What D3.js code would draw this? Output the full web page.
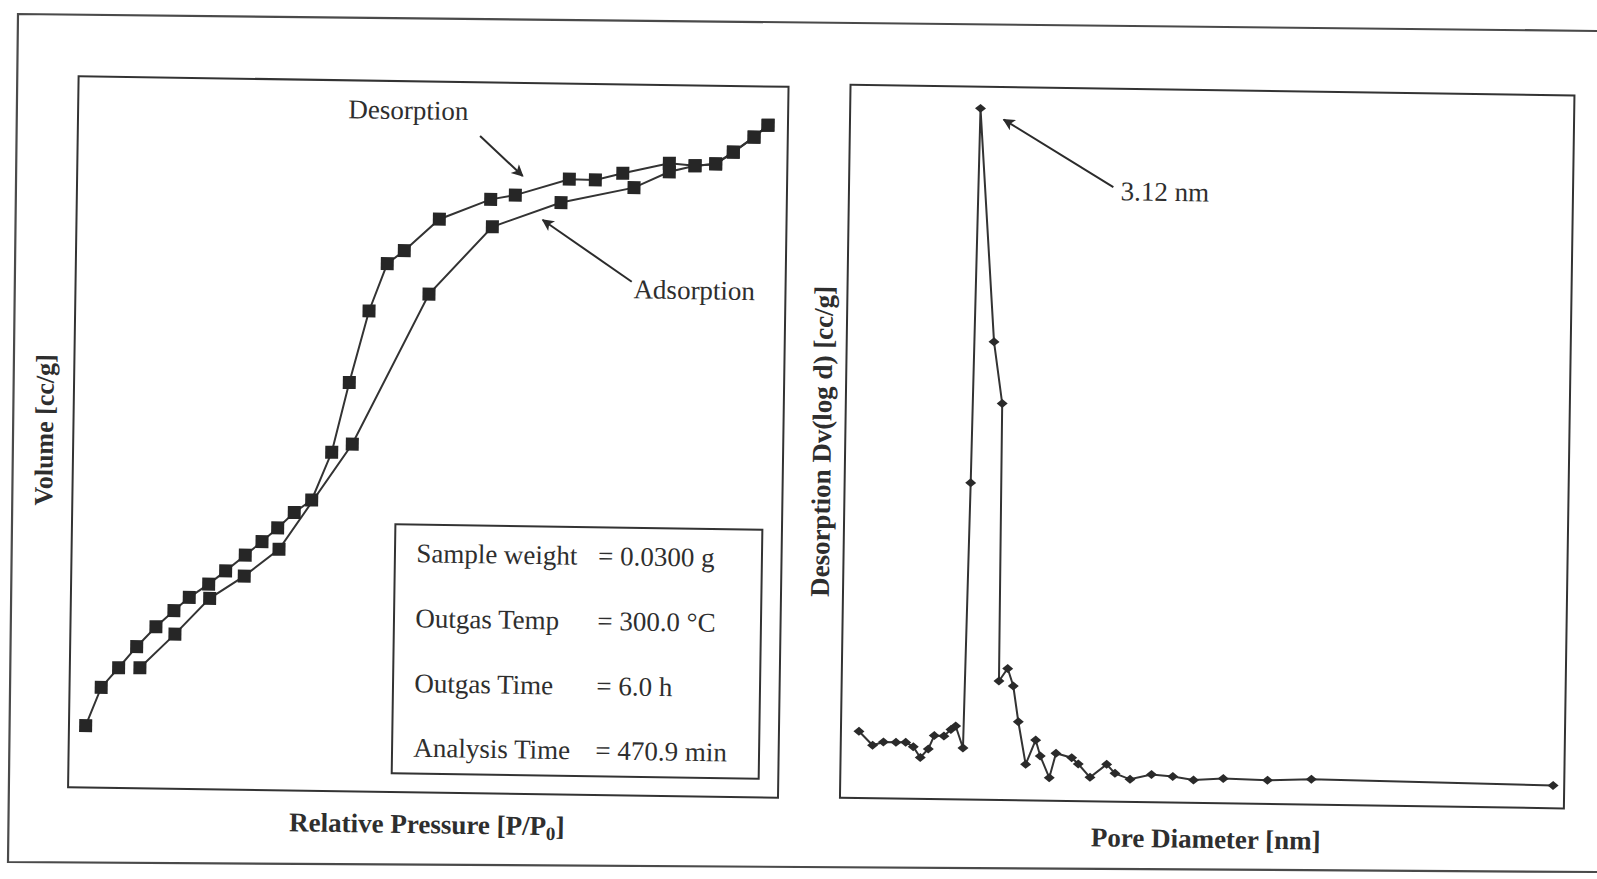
<!DOCTYPE html>
<html><head><meta charset="utf-8">
<script src="https://cdn.jsdelivr.net/npm/d3@7"></script>
<style>body{margin:0;background:#fff}svg{display:block}</style>
</head><body>
<svg id="c" width="1597" height="879"></svg>
<script>
// ---------- Data ----------
// Left: N2 isotherm, relative pressure P/P0 vs volume (cc/g, arbitrary scale)
const desorptionP = [0.0235,0.0446,0.0687,0.0937,0.1204,0.1454,0.1667,0.1938,0.2174,0.2447,0.2680,0.2898,0.3128,0.3371,0.3643,0.3876,0.4139,0.4386,0.4623,0.5110,0.5829,0.6175,0.6932,0.7299,0.7684,0.8337,0.8700,0.8991,0.9236,0.9525,0.9719];
const desorptionV = [17.4,28.2,33.8,39.8,45.5,50.1,53.9,57.7,61.5,66.0,69.9,73.8,78.2,81.8,95.3,115.0,135.2,148.6,152.3,161.3,167.1,168.4,173.1,173.0,175.0,178.0,177.4,178.0,181.4,185.7,189.1];
const adsorptionP = [0.0987,0.1473,0.1955,0.2437,0.2921,0.3931,0.4980,0.5858,0.6820,0.7845,0.8339,0.8700,0.8991,0.9236,0.9525,0.9719];
const adsorptionV = [33.9,43.5,53.7,60.1,67.8,97.7,140.2,159.4,166.5,171.0,175.6,177.4,178.0,181.4,185.7,189.1];
const pressureDomain = [0, 1];
const volumeDomain = [0, 200];

// Right: BJH desorption pore size distribution
const poreD = [1.724,1.896,2.030,2.186,2.307,2.402,2.491,2.589,2.661,2.781,2.867,2.925,3.020,3.067,3.12,3.331,3.444,3.455,3.561,3.634,3.703,3.802,3.922,3.982,4.098,4.177,4.373,4.456,4.604,4.809,4.914,5.102,5.368,5.633,5.891,6.261,6.811,7.356,10.362];
const dvlogd = [0.0935,0.0742,0.0790,0.0788,0.0790,0.0730,0.0580,0.0701,0.0891,0.0886,0.0979,0.1029,0.0722,0.4443,0.9696,0.6425,0.5562,0.1669,0.1846,0.1602,0.1102,0.0506,0.0849,0.0626,0.0323,0.0667,0.0609,0.0522,0.0338,0.0523,0.0399,0.0318,0.0390,0.0366,0.0321,0.0348,0.0334,0.0357,0.0319];
const poreDomain = [1.5, 10.5];
const dvDomain = [0, 1];

// Texts
const infoLabels = ["Sample weight", "Outgas Temp", "Outgas Time", "Analysis Time"];
const infoValues = ["= 0.0300 g", "= 300.0 \u00B0C", "= 6.0 h", "= 470.9 min"];
const peakLabel = "3.12 nm";

// ---------- Drawing ----------
const svg = d3.select("#c");
const ink = "#2b2b2b";
const serif = "'Liberation Serif','Times New Roman',serif";

svg.append("path")
  .attr("d", "M1597,31 L18,14 L8,862 L1597,872")
  .attr("fill", "none").attr("stroke", "#4a4a4a").attr("stroke-width", 2.2);

const defs = svg.append("defs");
defs.append("marker").attr("id", "ah")
  .attr("viewBox", "0 0 10 10").attr("refX", 9).attr("refY", 5)
  .attr("markerWidth", 18).attr("markerHeight", 12)
  .attr("markerUnits", "userSpaceOnUse").attr("orient", "auto")
  .append("path").attr("d", "M0,0 L10,5 L0,10 L2.5,5 Z").attr("fill", ink);

function arrow(g, x1, y1, x2, y2) {
  g.append("line").attr("x1", x1).attr("y1", y1).attr("x2", x2).attr("y2", y2)
    .attr("stroke", ink).attr("stroke-width", 2).attr("marker-end", "url(#ah)");
}
function label(g, x, y, t, opts = {}) {
  return g.append("text").attr("x", x).attr("y", y).text(t)
    .attr("font-family", serif).attr("font-size", opts.size || 27)
    .attr("font-weight", opts.bold ? "bold" : "normal")
    .attr("text-anchor", opts.anchor || "start").attr("fill", "#2e2e2e");
}

// ----- Left panel -----
const gL = svg.append("g").attr("transform", "rotate(0.85,428.3,437)");
const xL = d3.scaleLinear().domain(pressureDomain).range([73.3, 783.3]);
const yL = d3.scaleLinear().domain(volumeDomain).range([792.5, 81.5]);

gL.append("rect").attr("x", xL(0)).attr("y", yL(200))
  .attr("width", xL(1) - xL(0)).attr("height", yL(0) - yL(200))
  .attr("fill", "none").attr("stroke", "#333").attr("stroke-width", 2);

const des = desorptionP.map((p, i) => [p, desorptionV[i]]);
const ads = adsorptionP.map((p, i) => [p, adsorptionV[i]]);
const lineL = d3.line().x(d => xL(d[0])).y(d => yL(d[1]));
[des, ads].forEach(s => {
  gL.append("path").attr("d", lineL(s)).attr("fill", "none")
    .attr("stroke", "#333").attr("stroke-width", 2);
});
[des, ads].forEach(s => {
  gL.selectAll(null).data(s).enter().append("rect")
    .attr("x", d => xL(d[0]) - 6.5).attr("y", d => yL(d[1]) - 6.5)
    .attr("width", 13).attr("height", 13).attr("fill", "#262626");
});

label(gL, 343.6, 119.5, "Desorption");
arrow(gL, 475.6, 135.2, 518.8, 174.6);
label(gL, 631.3, 295.3, "Adsorption");
arrow(gL, 629.4, 278.7, 539.5, 218.3);

gL.append("rect").attr("x", 396.7).attr("y", 524.8).attr("width", 367).attr("height", 249)
  .attr("fill", "#fff").attr("stroke", "#333").attr("stroke-width", 2);
const rowY = [562.5, 627.5, 692.5, 757];
infoLabels.forEach((t, i) => label(gL, 418, rowY[i], t));
infoValues.forEach((t, i) => label(gL, 600, rowY[i], t));

const xt = gL.append("text").attr("x", 432.6).attr("y", 833.3)
  .attr("font-family", serif).attr("font-size", 27).attr("font-weight", "bold")
  .attr("text-anchor", "middle").attr("fill", "#2e2e2e");
xt.append("tspan").text("Relative Pressure [P/P");
xt.append("tspan").text("0").attr("font-size", 19).attr("dy", 5);
xt.append("tspan").text("]").attr("dy", -5);

label(gL, 0, 0, "Volume [cc/g]", {bold: true, size: 26, anchor: "middle"})
  .attr("transform", "translate(53,435.6) rotate(-90)");

// ----- Right panel -----
const gR = svg.append("g").attr("transform", "rotate(0.85,1207.2,446.6)");
const xR = d3.scaleLinear().domain(poreDomain).range([845.2, 1569.2]);
const yR = d3.scaleLinear().domain(dvDomain).range([803.1, 90.1]);

gR.append("rect").attr("x", xR(poreDomain[0])).attr("y", yR(1))
  .attr("width", xR(poreDomain[1]) - xR(poreDomain[0])).attr("height", yR(0) - yR(1))
  .attr("fill", "none").attr("stroke", "#333").attr("stroke-width", 2);

const psd = poreD.map((d, i) => [d, dvlogd[i]]);
const lineR = d3.line().x(d => xR(d[0])).y(d => yR(d[1]));
gR.append("path").attr("d", lineR(psd)).attr("fill", "none")
  .attr("stroke", "#333").attr("stroke-width", 2);
gR.selectAll(null).data(psd).enter().append("path")
  .attr("d", "M-5.5,0 L0,-4.5 L5.5,0 L0,4.5 Z")
  .attr("transform", d => `translate(${xR(d[0])},${yR(d[1])})`)
  .attr("fill", "#2a2a2a");

label(gR, 1116.8, 201.5, peakLabel);
arrow(gR, 1109.5, 188.5, 998.9, 122.6);

label(gR, 1211.6, 848, "Pore Diameter [nm]", {bold: true, anchor: "middle"});
label(gR, 0, 0, "Desorption Dv(log d) [cc/g]", {bold: true, size: 27, anchor: "middle"})
  .attr("transform", "translate(830.9,447.1) rotate(-90)");
</script>
</body></html>
